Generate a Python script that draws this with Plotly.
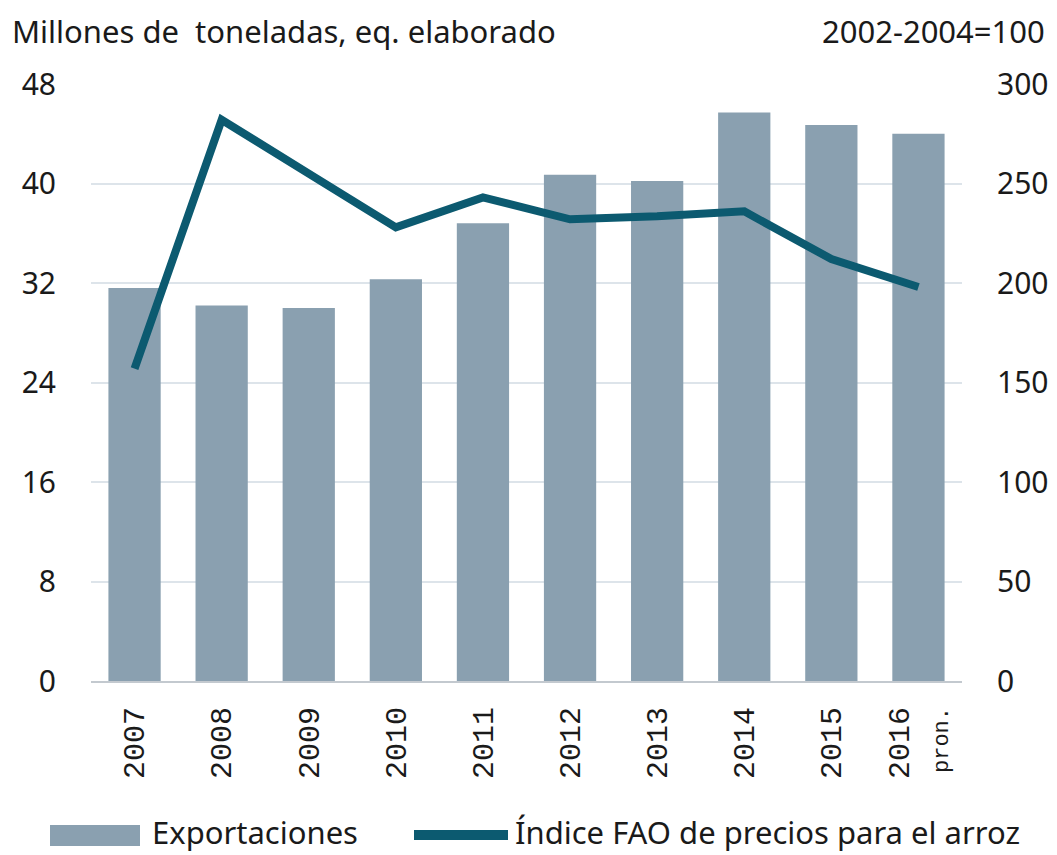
import plotly.graph_objects as go

years = ["2007", "2008", "2009", "2010", "2011", "2012", "2013", "2014", "2015", "2016"]
tick_labels = ["2007", "2008", "2009", "2010", "2011", "2012", "2013", "2014", "2015",
               "2016<br><span style='font-size:22px'>pron.</span>"]
exportaciones = [31.6, 30.2, 30.0, 32.3, 36.8, 40.7, 40.2, 45.7, 44.7, 44.0]
indice_fao = [157, 282, 255, 228, 243, 232, 233.5, 236, 212, 198]

left_ticks = [0, 8, 16, 24, 32, 40, 48]
right_ticks = [0, 50, 100, 150, 200, 250, 300]

FONT = "Noto Sans"
TXT = "#1a1a1a"
BAR_C = "#8aa0b0"
LINE_C = "#0c5a70"

# page offset of the plotly div (default body margin)
OFF = 8
W, H = 1057 - OFF, 855 - OFF
ML, MR, MT, MB = 83, 95, 76, 174
PW, PH = W - ML - MR, H - MT - MB


def px(xp):
    return (xp - OFF - ML) / PW


def py(yp):
    return (H - MB - (yp - OFF)) / PH


fig = go.Figure()
fig.add_trace(go.Bar(
    x=years, y=exportaciones, name="Exportaciones",
    marker=dict(color=BAR_C, line=dict(width=0)),
    width=0.6, yaxis="y", showlegend=False,
))
fig.add_trace(go.Scatter(
    x=years, y=indice_fao, name="Índice FAO de precios para el arroz",
    mode="lines", line=dict(color=LINE_C, width=8), yaxis="y2", showlegend=False,
))

fig.update_layout(
    width=W, height=H,
    margin=dict(l=ML, r=MR, t=MT, b=MB, autoexpand=False),
    paper_bgcolor="white", plot_bgcolor="white",
    font=dict(family=FONT, size=30, color=TXT),
    showlegend=False,
    xaxis=dict(
        tickmode="array", tickvals=years, ticktext=tick_labels,
        tickangle=-90, tickfont=dict(family="Liberation Mono", size=30, color=TXT),
        showgrid=False, showline=True, linecolor="#c3c9cf", linewidth=2,
        ticks="", ticklabelstandoff=12, range=[-0.5, 9.5],
    ),
    yaxis=dict(
        range=[0, 48], tickvals=left_ticks, showgrid=True, gridcolor="#dde4ea",
        gridwidth=2, zeroline=False, showline=False, ticks="",
        ticklabelstandoff=34, tickfont=dict(family=FONT, size=30, color=TXT),
    ),
    yaxis2=dict(
        range=[0, 300], tickvals=right_ticks, overlaying="y", side="right",
        showgrid=False, zeroline=False, showline=False, ticks="",
        ticklabelstandoff=34, tickfont=dict(family=FONT, size=30, color=TXT),
    ),
    shapes=[
        dict(type="rect", xref="paper", yref="paper",
             x0=px(50), x1=px(140), y0=py(846), y1=py(825),
             fillcolor=BAR_C, line=dict(width=0)),
        dict(type="line", xref="paper", yref="paper",
             x0=px(414), x1=px(508), y0=py(835), y1=py(835),
             line=dict(color=LINE_C, width=10)),
    ],
    annotations=[
        dict(text="Millones de  toneladas, eq. elaborado", xref="paper", yref="paper",
             x=px(10), y=py(OFF), xanchor="left", yanchor="top", showarrow=False,
             font=dict(family=FONT, size=31, color=TXT)),
        dict(text="2002-2004=100", xref="paper", yref="paper",
             x=px(1047), y=py(OFF), xanchor="right", yanchor="top", showarrow=False,
             font=dict(family=FONT, size=31, color=TXT)),
        dict(text="Exportaciones", xref="paper", yref="paper",
             x=px(150), y=py(855), xanchor="left", yanchor="bottom", showarrow=False,
             font=dict(family=FONT, size=31, color=TXT)),
        dict(text="Índice FAO de precios para el arroz", xref="paper", yref="paper",
             x=px(513), y=py(855), xanchor="left", yanchor="bottom", showarrow=False,
             font=dict(family=FONT, size=31, color=TXT)),
    ],
)

fig.write_html("out.html")
